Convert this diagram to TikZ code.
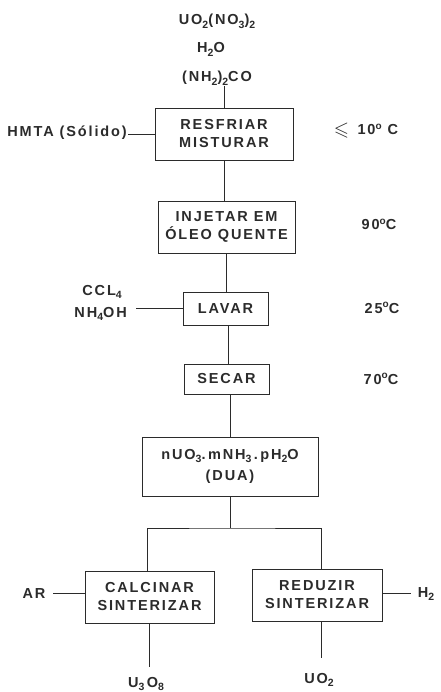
\documentclass[tikz,border=0pt]{standalone}
\usepackage{fontspec}
\usepackage{amssymb}
\usepackage{graphicx}
\setmainfont{Liberation Sans}[LetterSpace=13]
\newcommand{\chsub}[1]{\raisebox{-0.4ex}{\fontsize{10.5}{10.5}\selectfont #1}}
\newcommand{\dg}{\raisebox{0.75ex}{\fontsize{10}{10}\selectfont o}}
\definecolor{ink}{HTML}{2B2B2B}
\begin{document}
\begin{tikzpicture}[x=1pt,y=-1pt,
  txt/.style={text=ink,font=\bfseries\fontsize{14.5}{18}\selectfont,inner sep=1pt},
  boxnode/.style={draw=ink,line width=0.9pt,align=center,inner sep=0pt,text=ink,
    font=\bfseries\fontsize{14.5}{18}\selectfont},
  wire/.style={draw=ink,line width=0.9pt}]
\useasboundingbox (0,0) rectangle (440,692);
% inputs on top
\node[txt,anchor=base] (in1) at (217,25) {UO\chsub{2}(NO\chsub{3})\chsub{2}};
\node[txt,anchor=base] (in2) at (211,53) {H\chsub{2}O};
\node[txt,anchor=base] (in3) at (217,82) {(NH\chsub{2})\chsub{2}CO};
% boxes
\node[boxnode,minimum width=138,minimum height=52] (b1) at (224,134) {RESFRIAR\\MISTURAR};
\node[boxnode,minimum width=137,minimum height=52] (b2) at (226.5,227) {INJETAR EM\\ÓLEO QUENTE};
\node[boxnode,minimum width=85,minimum height=33] (b3) at (225.5,308.5) {LAVAR};
\node[boxnode,minimum width=85,minimum height=30] (b4) at (226.5,379) {SECAR};
\node[boxnode,minimum width=176,minimum height=59] (b5) at (230,466.5) {nUO\chsub{3}.\,mNH\chsub{3}\,.\,pH\chsub{2}O\\[3pt](DUA)};
\node[boxnode,minimum width=129,minimum height=52] (b6) at (149.5,597) {CALCINAR\\SINTERIZAR};
\node[boxnode,minimum width=130,minimum height=52] (b7) at (317,595) {REDUZIR\\SINTERIZAR};
% side labels
\node[txt,anchor=base east] (hmta) at (128,137) {HMTA (Sólido)};
\node[txt,anchor=base east] (ccl) at (123,295) {CCL\chsub{4}};
\node[txt,anchor=base east] (nh) at (128,317) {NH\chsub{4}OH};
\node[txt,anchor=base] (ar) at (34,598) {AR};
\node[txt,anchor=base] (h2) at (426,597) {H\chsub{2}};
\node[txt,anchor=base] (u3o8) at (146,687) {U\chsub{3}\,O\chsub{8}};
\node[txt,anchor=base] (uo2) at (319,683) {UO\chsub{2}};
% temperatures
\node[txt,anchor=base] (t1) at (366,135) {\raisebox{-0.1ex}{\scalebox{1.35}{$\leqslant$}}\, 10\dg\ C};
\node[txt,anchor=base] (t2) at (379,230) {90\dg C};
\node[txt,anchor=base] (t3) at (382,313) {25\dg C};
\node[txt,anchor=base] (t4) at (381,384) {70\dg C};
% connectors
\draw[wire] (b1.north) -- (b1.north |- in3.south);
\draw[wire] (b1.west) -- (b1.west -| hmta.east);
\draw[wire] (b1.south) -- (b1.south |- b2.north);
\draw[wire] (b2.south) -- (b2.south |- b3.north);
\draw[wire,shorten >=8pt] (b3.west) -- (b3.west -| nh.east);
\draw[wire] ([xshift=3]b3.south) -- ([xshift=3]b3.south |- b4.north);
\draw[wire] (b5.north) -- (b5.north |- b4.south);
\coordinate (sp) at (230,528);
\draw[wire] (b5.south) -- (sp);
\draw[wire] ([xshift=-2]b6.north) |- (sp) -| ([xshift=4]b7.north);
\draw[wire,shorten >=6pt] (ar.east -| b6.west) -- (ar.east);
\draw[wire,shorten >=6pt] (h2.west -| b7.east) -- (h2.west);
\draw[wire,shorten >=9pt] (b6.south) -- (b6.south |- u3o8.north);
\draw[wire,shorten >=14pt] ([xshift=4]b7.south) -- ([xshift=4]b7.south |- uo2.north);
\end{tikzpicture}
\end{document}
